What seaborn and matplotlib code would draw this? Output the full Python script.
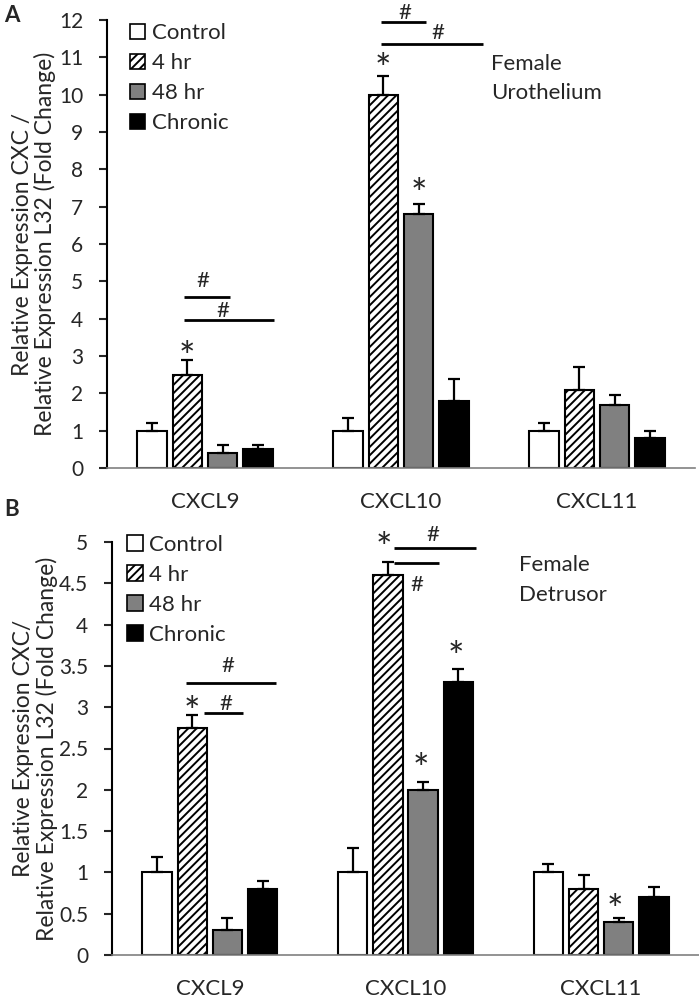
import numpy as np
import pandas as pd
import matplotlib
matplotlib.use("Agg")
import matplotlib.pyplot as plt
from matplotlib.patches import Patch
import seaborn as sns

# data
genes = ["CXCL9", "CXCL10", "CXCL11"]
groups = ["Control", "4 hr", "48 hr", "Chronic"]

# panel A - female urothelium
a_control = [1.0, 1.0, 1.0]
a_4hr = [2.5, 10.0, 2.1]
a_48hr = [0.4, 6.8, 1.7]
a_chronic = [0.5, 1.8, 0.8]
a_control_err = [0.2, 0.35, 0.2]
a_4hr_err = [0.4, 0.5, 0.6]
a_48hr_err = [0.22, 0.27, 0.25]
a_chronic_err = [0.12, 0.58, 0.2]

# panel B - female detrusor
b_control = [1.0, 1.0, 1.0]
b_4hr = [2.75, 4.6, 0.8]
b_48hr = [0.3, 2.0, 0.4]
b_chronic = [0.8, 3.3, 0.7]
b_control_err = [0.19, 0.3, 0.1]
b_4hr_err = [0.15, 0.16, 0.17]
b_48hr_err = [0.15, 0.1, 0.05]
b_chronic_err = [0.1, 0.16, 0.12]

a_yticks = list(range(0, 13))
b_yticks = [0, 0.5, 1, 1.5, 2, 2.5, 3, 3.5, 4, 4.5, 5]

# significance marks (x in category units, y in data units)
a_stars = [(-0.09, 3.26), (0.91, 10.98), (1.09, 7.63)]
a_lines = [(-0.107, 0.128, 4.57), (-0.107, 0.35, 3.96), (0.90, 1.13, 11.95), (0.90, 1.42, 11.36)]
a_hashes = [(-0.01, 5.0), (0.09, 4.2), (1.02, 12.2), (1.19, 11.65)]

b_stars = [(-0.09, 3.07), (0.89, 5.06), (1.08, 2.38), (1.26, 3.74), (2.07, 0.67)]
b_lines = [(-0.12, 0.34, 3.29), (-0.03, 0.17, 2.93), (0.94, 1.36, 4.93), (0.94, 1.17, 4.74)]
b_hashes = [(0.09, 3.5), (0.08, 3.04), (1.14, 5.09), (1.06, 4.48)]

palette = {"Control": "white", "4 hr": "white", "48 hr": "#808080", "Chronic": "black"}
hatches = {"Control": "", "4 hr": "////", "48 hr": "", "Chronic": ""}

sns.set_style("white")
plt.rcParams["font.family"] = ["Lato", "DejaVu Sans"]
plt.rcParams["hatch.linewidth"] = 1.4

fig = plt.figure(figsize=(6.99, 10), dpi=100)
ax_a = fig.add_axes([107 / 699, 1 - 468 / 1000, 588 / 699, 448 / 1000])
ax_b = fig.add_axes([112 / 699, 1 - 955 / 1000, 587 / 699, 413 / 1000])


def draw_panel(ax, vals, errs, yticks, stars, lines, hashes, title, title_xy, legend_xy):
    df = pd.DataFrame({
        "gene": genes * 4,
        "group": np.repeat(groups, len(genes)),
        "value": np.concatenate(vals),
    })
    sns.barplot(data=df, x="gene", y="value", hue="group", order=genes, hue_order=groups,
                palette=palette, saturation=1, edgecolor="black", linewidth=1.5,
                width=0.72, gap=0.17, errorbar=None, legend=False, ax=ax)

    for group, cont, err in zip(groups, ax.containers, errs):
        for bar, e in zip(cont, err):
            bar.set_hatch(hatches[group])
            xc = bar.get_x() + bar.get_width() / 2
            ax.errorbar(xc, bar.get_height(), yerr=[[0], [e]], fmt="none",
                        ecolor="black", elinewidth=1.6, capsize=4, capthick=1.6, zorder=1)

    ax.set_xlim(-0.5, 2.5)
    ax.set_ylim(0, yticks[-1])
    ax.set_yticks(yticks)
    ax.set_yticklabels([f"{t:g}" for t in yticks])
    ax.tick_params(axis="y", direction="out", length=6, width=1.5, pad=11, labelsize=15, left=True)
    ax.tick_params(axis="x", length=0, pad=17, labelsize=16)
    ax.set_xlabel("")
    ax.spines[["top", "right"]].set_visible(False)
    ax.spines["left"].set_linewidth(1.5)
    ax.spines["left"].set_color("black")
    ax.spines["bottom"].set_linewidth(1.2)
    ax.spines["bottom"].set_color("#808080")

    # the asterisk glyph sits high in its box, so nudge it down a little
    for x, y in stars:
        ax.annotate("*", (x, y), xytext=(0, -9), textcoords="offset points",
                    ha="center", va="center", fontsize=28, annotation_clip=False)
    for x0, x1, y in lines:
        ax.plot([x0, x1], [y, y], color="black", lw=2, clip_on=False, solid_capstyle="butt")
    for x, y in hashes:
        ax.text(x, y, "#", ha="center", va="center", fontsize=16, clip_on=False)

    ax.text(title_xy[0], title_xy[1], title, ha="left", va="top", fontsize=16, linespacing=1.6)

    handles = [Patch(facecolor=palette[g], edgecolor="black", hatch=hatches[g], linewidth=1.2)
               for g in groups]
    ax.legend(handles, groups, loc="upper left", bbox_to_anchor=legend_xy, frameon=False,
              fontsize=16, handlelength=0.7, handleheight=0.7, handletextpad=0.3,
              labelspacing=0.45, borderpad=0, borderaxespad=0)


draw_panel(ax_a,
           [a_control, a_4hr, a_48hr, a_chronic],
           [a_control_err, a_4hr_err, a_48hr_err, a_chronic_err],
           a_yticks, a_stars, a_lines, a_hashes,
           "Female\nUrothelium", (1.46, 11.1), (0.039, 0.993))
ax_a.set_ylabel("Relative Expression CXC /\nRelative Expression L32 (Fold Change)",
                fontsize=16.5, linespacing=1.1)
ax_a.yaxis.set_label_coords(-0.086, 0.5)

draw_panel(ax_b,
           [b_control, b_4hr, b_48hr, b_chronic],
           [b_control_err, b_4hr_err, b_48hr_err, b_chronic_err],
           b_yticks, b_stars, b_lines, b_hashes,
           "Female\nDetrusor", (1.58, 4.84), (0.026, 1.017))
ax_b.set_ylabel("Relative Expression CXC/\nRelative Expression L32 (Fold Change)",
                fontsize=16.5, linespacing=1.1)
ax_b.yaxis.set_label_coords(-0.092, 0.5)

fig.text(4 / 699, 1 - 5 / 1000, "A", fontsize=16, fontweight="bold", va="top", ha="left")
fig.text(4 / 699, 1 - 499 / 1000, "B", fontsize=16, fontweight="bold", va="top", ha="left")

fig.savefig("out.png", dpi=100)
